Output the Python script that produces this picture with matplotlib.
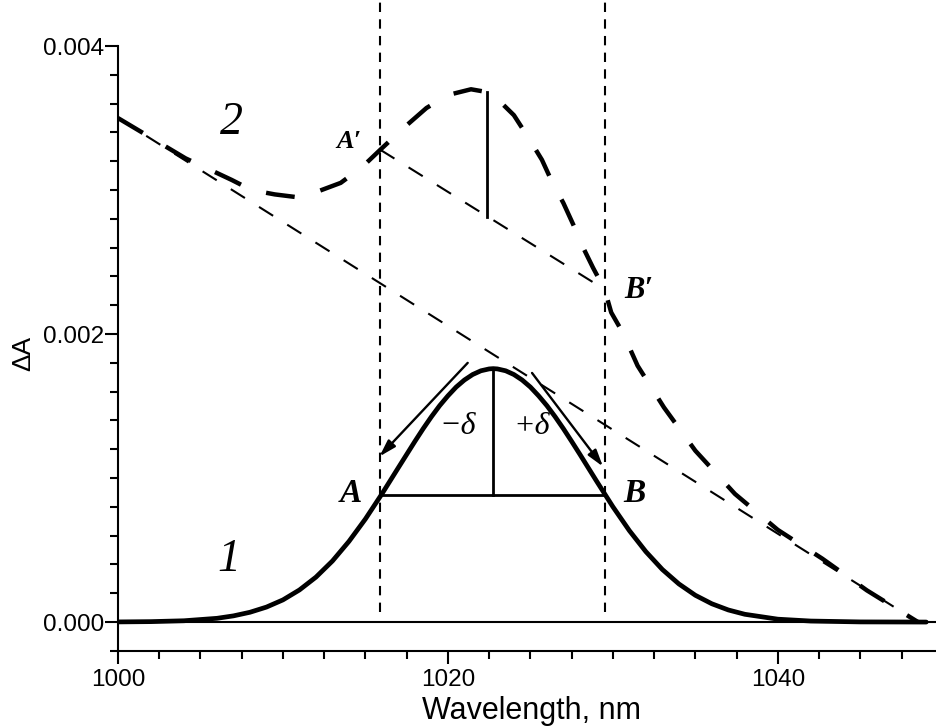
import matplotlib
matplotlib.use("Agg")
from matplotlib import pyplot as plt
from matplotlib.ticker import MultipleLocator, FixedLocator
import numpy as np

# curve 1: band
wl1 = [1000, 1002, 1004, 1006, 1007, 1008, 1009, 1010, 1011, 1012, 1013, 1014,
       1015, 1016, 1017, 1018, 1018.5, 1019, 1019.5, 1020, 1020.5, 1021, 1021.5,
       1022, 1022.5, 1022.75, 1023, 1023.5, 1024, 1024.5, 1025, 1025.5, 1026,
       1026.5, 1027, 1027.5, 1028, 1029, 1030, 1031, 1032, 1033, 1034, 1035,
       1036, 1037, 1038, 1040, 1042, 1045, 1049]
a1 = [0.000001, 0.000003, 0.000009, 0.000026, 0.000043, 0.000068, 0.000104,
      0.000154, 0.000223, 0.000312, 0.000424, 0.000560, 0.000716, 0.000890,
      0.001073, 0.001255, 0.001343, 0.001426, 0.001503, 0.001571, 0.001632,
      0.001681, 0.001719, 0.001745, 0.001758, 0.001760, 0.001758, 0.001745,
      0.001719, 0.001681, 0.001632, 0.001571, 0.001503, 0.001426, 0.001343,
      0.001255, 0.001165, 0.000981, 0.000801, 0.000635, 0.000489, 0.000365,
      0.000265, 0.000186, 0.000127, 0.000084, 0.000054, 0.000020, 0.000007,
      0.000001, 0.0]

# curve 2: band on a sloping background
wl2 = [1000.0, 1004.1, 1005.6, 1006.9, 1008.1, 1009.5, 1010.9, 1012.1, 1013.5,
       1014.8, 1015.9, 1017.4, 1018.7, 1020.0, 1021.4, 1022.4, 1023.2, 1024.0,
       1024.9, 1025.7, 1026.3, 1027.0, 1027.6, 1028.2, 1028.8, 1029.5, 1029.9,
       1030.6, 1031.5, 1033.1, 1035.0, 1037.4, 1040.0, 1042.7, 1045.4, 1048.5]
a2 = [0.00350, 0.00322, 0.00314, 0.00307, 0.00300, 0.00297, 0.00295, 0.00299,
      0.00305, 0.00316, 0.00328, 0.00344, 0.00357, 0.00366, 0.00370, 0.00368,
      0.00361, 0.00352, 0.00336, 0.00321, 0.00306, 0.00291, 0.00276, 0.00260,
      0.00246, 0.00231, 0.00215, 0.00201, 0.00178, 0.00149, 0.00119, 0.00089,
      0.00064, 0.00044, 0.00022, 0.0]

# straight background under curve 2
base_wl = [1000.0, 1048.5]
base_a = [0.00350, 0.0]

# A, B / A', B' marks
wl_A, wl_B = 1015.9, 1029.5
a_half = 0.00088
wl_peak1, a_peak1 = 1022.75, 0.00176
a_Ap, a_Bp = 0.00328, 0.00231
wl_peak2, a_peak2 = 1022.4, 0.00368

serif = ['Liberation Serif', 'DejaVu Serif']
sans = ['Liberation Sans', 'DejaVu Sans']

def main():
    fig = plt.figure(figsize=(9.37, 7.28), dpi=100)
    ax = fig.add_axes([118/937, 77/728, 1 - 118/937, 651/728])
    ax.set_xlim(1000, 1049.65)
    ax.set_ylim(-0.000201, 0.00432)

    # vertical dashed guides
    for w in (wl_A, wl_B):
        ax.plot([w, w], [0.00007, 0.00432], color='black', lw=1.5,
                dashes=(4.5, 3.5), clip_on=False)

    # zero line
    ax.axhline(0, color='black', lw=1.5)

    # curve 1
    ax.plot(wl1, a1, color='black', lw=3.4, solid_capstyle='round',
            solid_joinstyle='round')
    ax.plot([wl_A, wl_B], [a_half, a_half], color='black', lw=2)
    ax.plot([wl_peak1, wl_peak1], [a_half, a_peak1], color='black', lw=2)

    # curve 2 + background + chord
    ax.plot(wl2, a2, color='black', lw=3.2, dashes=(6.5, 6))
    ax.plot(base_wl, base_a, color='black', lw=1.5, dashes=(8, 8))
    ax.plot([wl_A, wl_B], [a_Ap, a_Bp], color='black', lw=1.5, dashes=(8, 8))
    chord = a_Ap + (wl_peak2 - wl_A) / (wl_B - wl_A) * (a_Bp - a_Ap)
    ax.plot([wl_peak2, wl_peak2], [chord, a_peak2], color='black', lw=2)

    # arrows
    style = '-|>,head_length=1.0,head_width=0.3'
    ax.annotate('', xy=(1015.85, 0.00115), xytext=(1021.2, 0.00180),
                arrowprops=dict(arrowstyle=style, color='black', lw=1.7,
                                shrinkA=0, shrinkB=0))
    ax.annotate('', xy=(1029.4, 0.00108), xytext=(1025.1, 0.00173),
                arrowprops=dict(arrowstyle=style, color='black', lw=1.7,
                                shrinkA=0, shrinkB=0))

    # labels on the plot
    ax.text(1014.1, 0.00089, 'A', family=serif, style='italic', weight='bold',
            fontsize=24, ha='center', va='center')
    ax.text(1031.3, 0.00089, 'B', family=serif, style='italic', weight='bold',
            fontsize=24, ha='center', va='center')
    ax.text(1014.0, 0.00334, 'A\u2032', family=serif, style='italic', weight='bold',
            fontsize=19, ha='center', va='center')
    ax.text(1031.6, 0.00230, 'B\u2032', family=serif, style='italic', weight='bold',
            fontsize=22, ha='center', va='center')
    ax.text(1006.9, 0.00347, '2', family=serif, style='italic',
            fontsize=33, ha='center', va='center')
    ax.text(1006.7, 0.00043, '1', family=serif, style='italic',
            fontsize=33, ha='center', va='center')
    ax.text(1020.6, 0.00136, '\u2212\u03b4', family=serif, style='italic',
            fontsize=23, ha='center', va='center')
    ax.text(1025.1, 0.00136, '+\u03b4', family=serif, style='italic',
            fontsize=23, ha='center', va='center')

    # axes styling
    ax.spines['top'].set_visible(False)
    ax.spines['right'].set_visible(False)
    ax.spines['left'].set_bounds(-0.0002, 0.004)
    for s in ('left', 'bottom'):
        ax.spines[s].set_linewidth(1.5)

    ax.xaxis.set_major_locator(FixedLocator([1000, 1020, 1040]))
    ax.xaxis.set_minor_locator(MultipleLocator(2.5))
    ax.yaxis.set_major_locator(FixedLocator([0.0, 0.002, 0.004]))
    ax.yaxis.set_minor_locator(FixedLocator(np.arange(-0.0002, 0.00401, 0.0002)))
    ax.set_yticklabels(['0.000', '0.002', '0.004'])
    ax.set_xticklabels(['1000', '1020', '1040'])
    ax.tick_params(which='major', length=9.5, width=1.5, direction='out')
    ax.tick_params(which='minor', length=5.5, width=1.5, direction='out')
    ax.tick_params(axis='y', pad=0.5)
    ax.tick_params(axis='x', pad=3.5)
    for lab in ax.get_xticklabels() + ax.get_yticklabels():
        lab.set_family(sans)
        lab.set_fontsize(17.5)

    fig.text(531/937, 1 - 719/728, 'Wavelength, nm', family=sans, fontsize=22,
             ha='center', va='baseline')
    fig.text(23/937, 1 - 353/728, '\u0394A', family=sans, fontsize=19,
             rotation=90, ha='center', va='center')

    fig.savefig('out.png', dpi=100)


if __name__ == '__main__':
    main()
